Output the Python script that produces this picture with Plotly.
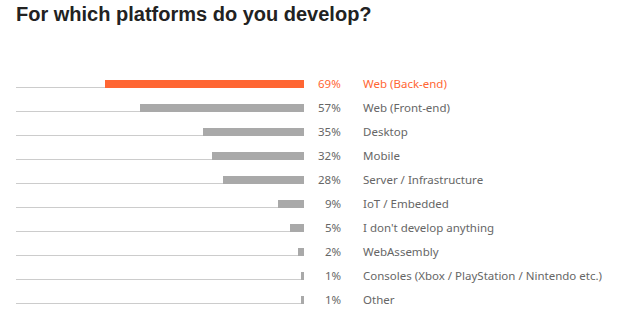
import plotly.graph_objects as go

categories = ["Web (Back-end)", "Web (Front-end)", "Desktop", "Mobile",
              "Server / Infrastructure", "IoT / Embedded", "I don't develop anything",
              "WebAssembly", "Consoles (Xbox / PlayStation / Nintendo etc.)", "Other"]
values = [69, 57, 35, 32, 28, 9, 5, 2, 1, 1]
highlight = [True] + [False] * 9

ORANGE = "#ff6633"
GRAY = "#a9a9a9"
LINE = "#cccccc"
TEXTGRAY = "#666666"

W, H = 640, 328
ML, MT, MB = 16, 72, 16
plot_w = W - ML

rows = list(range(len(categories)))

fig = go.Figure()
# baselines (full 100%)
fig.add_trace(go.Bar(
    y=rows, x=[100] * len(rows), orientation="h",
    width=1 / 24, offset=3 / 24,
    marker=dict(color=LINE, line=dict(width=0)),
    hoverinfo="skip", showlegend=False))
# value bars
fig.add_trace(go.Bar(
    y=rows, x=values, orientation="h",
    width=8 / 24, offset=-4 / 24,
    marker=dict(color=[ORANGE if h else GRAY for h in highlight], line=dict(width=0)),
    showlegend=False))

annotations = []
for i, (c, v, h) in enumerate(zip(categories, values, highlight)):
    col = ORANGE if h else TEXTGRAY
    annotations.append(dict(xref="paper", yref="y", x=(343 - ML) / plot_w, y=i,
                            text=f"{v}%", xanchor="right", yanchor="middle", yshift=1,
                            showarrow=False, font=dict(family="Noto Sans", size=11.5, color=col)))
    annotations.append(dict(xref="paper", yref="y", x=(361 - ML) / plot_w, y=i,
                            text=c, xanchor="left", yanchor="middle", yshift=1,
                            showarrow=False, font=dict(family="Noto Sans", size=11.5, color=col)))

fig.update_layout(
    width=W, height=H,
    margin=dict(l=ML, r=0, t=MT, b=MB, pad=0),
    barmode="overlay",
    bargap=0,
    plot_bgcolor="white", paper_bgcolor="white",
    title=dict(text="<b>For which platforms do you develop?</b>",
               x=ML / W, xanchor="left", xref="container",
               y=1 - 14 / H, yanchor="middle", yref="container",
               font=dict(family="Liberation Sans", size=20, color="#222222")),
    xaxis=dict(domain=[0, 288 / plot_w], range=[100, 0], visible=False, fixedrange=True),
    yaxis=dict(range=[9.5, -0.5], visible=False, fixedrange=True),
    annotations=annotations,
)

fig.write_html("out.html")
